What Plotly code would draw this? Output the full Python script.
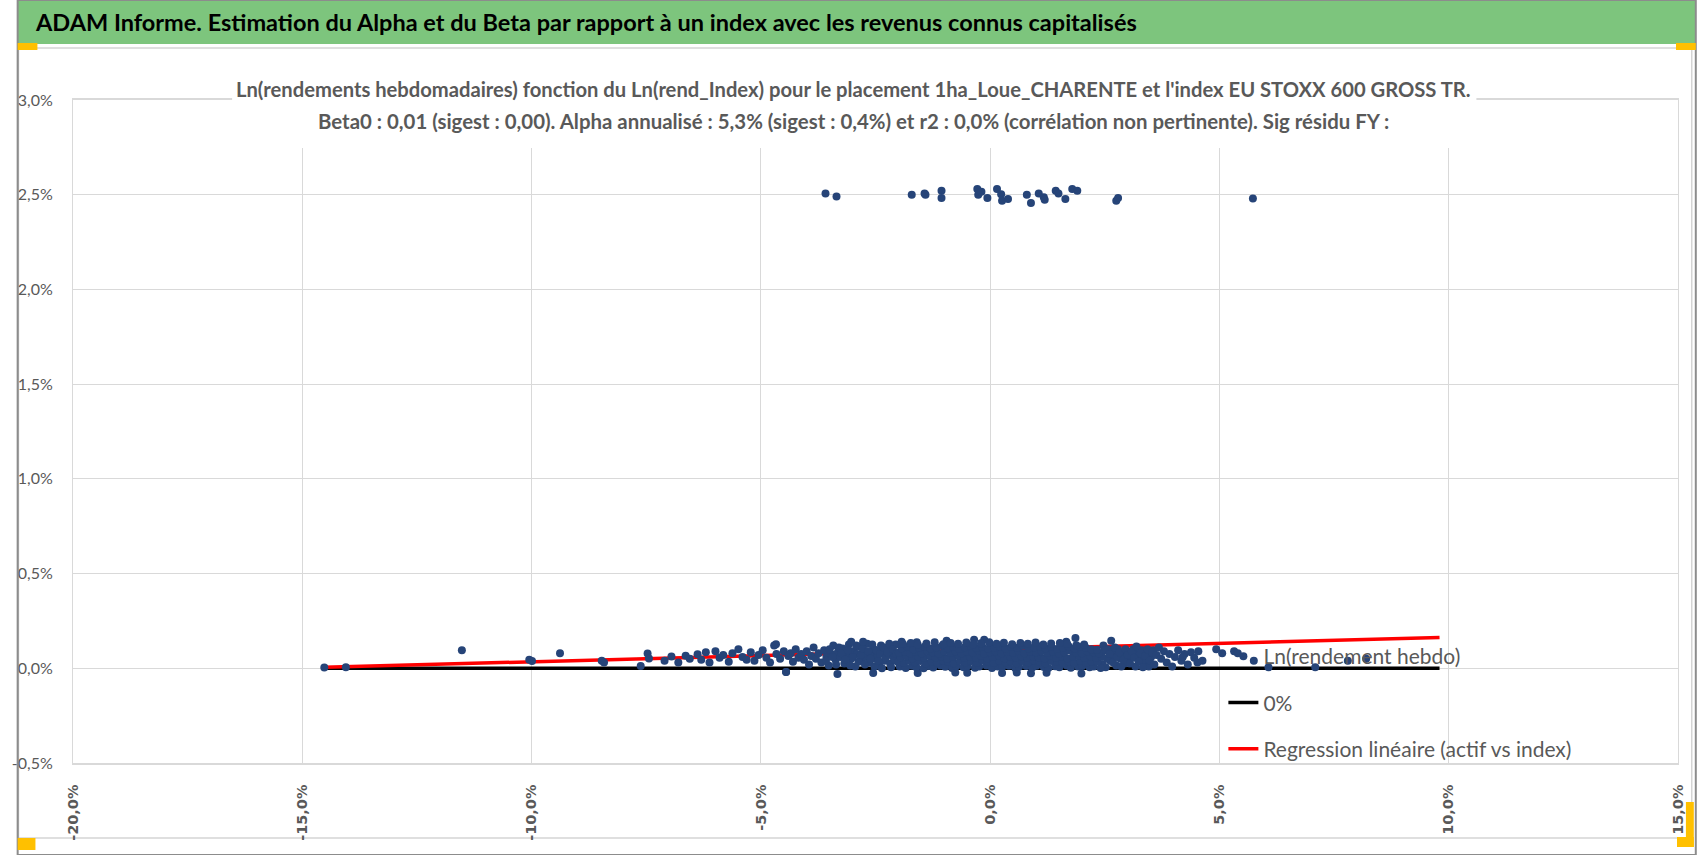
import plotly.graph_objects as go

# ---------------- data (values in %) ----------------
# weekly points around 2.5 % (upper group)
upper_x = [-3.59, -3.35, -1.71, -1.43, -1.41, -1.06, -1.06, -0.28, -0.26, -0.19, -0.06, 0.15, 0.24, 0.26,
           0.39, 0.80, 0.89, 1.06, 1.17, 1.19, 1.43, 1.49, 1.64, 1.79, 1.90, 2.75, 2.79, 5.73]
upper_y = [2.507, 2.491, 2.500, 2.507, 2.500, 2.521, 2.482, 2.530, 2.500, 2.516, 2.482, 2.530, 2.503, 2.468,
           2.477, 2.500, 2.456, 2.507, 2.486, 2.474, 2.521, 2.507, 2.477, 2.530, 2.521, 2.468, 2.482, 2.480]

# far left points
far_left = [(-14.52, 0.004), (-14.05, 0.006), (-11.52, 0.095), (-10.05, 0.045), (-9.99, 0.038), (-9.38, 0.080),
            (-8.47, 0.040), (-8.42, 0.030), (-7.62, 0.012), (-7.47, 0.078), (-7.44, 0.052), (-7.10, 0.040),
            (-6.95, 0.062), (-6.80, 0.030), (-6.64, 0.066), (-6.55, 0.050), (-6.38, 0.074), (-6.30, 0.045),
            (-6.20, 0.085), (-6.12, 0.030), (-5.99, 0.090), (-5.90, 0.055), (-5.82, 0.070), (-5.70, 0.035),
            (-5.62, 0.080), (-5.49, 0.100), (-5.40, 0.060), (-5.31, 0.045), (-5.22, 0.085), (-5.14, 0.040),
            (-5.05, 0.070), (-4.96, 0.095), (-4.88, 0.055), (-4.80, 0.030), (-4.71, 0.120), (-4.66, 0.075),
            (-4.58, 0.050), (-4.50, 0.090)]

left_mid = [(-4.45, -0.020), (-4.40, 0.065), (-4.35, 0.080), (-4.30, 0.035), (-4.24, 0.100), (-4.18, 0.055),
            (-4.12, 0.075), (-4.06, 0.045), (-4.00, 0.090), (-3.95, 0.020), (-3.90, 0.065), (-3.85, 0.110),
            (-3.80, 0.050), (-3.74, 0.080), (-3.68, 0.030), (-3.62, 0.095), (-3.57, 0.060), (-3.52, 0.015),
            (-3.47, 0.075), (-3.42, 0.120), (-3.37, 0.045), (-3.32, 0.085), (-3.27, 0.060), (-3.22, 0.105),
            (-3.18, 0.025), (-3.13, 0.070), (-3.08, 0.125), (-3.03, 0.050), (-2.98, 0.090), (-2.94, 0.010),
            (-2.90, 0.075), (-2.85, 0.115), (-2.81, 0.040), (-2.76, 0.095), (-2.72, 0.060), (-2.68, 0.130),
            (-2.63, 0.030), (-2.59, 0.080), (-2.55, 0.105), (-2.50, 0.050), (-2.46, 0.070), (-2.42, 0.015),
            (-2.38, 0.120), (-2.34, 0.090), (-2.30, 0.040), (-2.26, 0.065), (-2.22, 0.100), (-2.18, 0.025),
            (-2.14, 0.080), (-2.10, 0.055), (-2.06, 0.125), (-2.02, 0.035)]

left_dense = [(-3.58, 0.040), (-3.50, 0.100), (-3.44, 0.060), (-3.36, 0.020), (-3.30, 0.110), (-3.24, 0.080),
              (-3.16, 0.045), (-3.10, 0.095), (-3.05, 0.015), (-2.99, 0.060), (-2.92, 0.120), (-2.87, 0.035),
              (-2.82, 0.070), (-2.78, 0.105), (-2.73, 0.020), (-2.66, 0.090), (-2.61, 0.050), (-2.57, 0.125),
              (-2.52, 0.010), (-2.48, 0.095), (-2.44, 0.040), (-2.40, 0.075), (-2.36, 0.000), (-2.32, 0.110),
              (-2.28, 0.055), (-2.24, 0.085), (-2.20, 0.130), (-2.16, 0.005), (-2.12, 0.100), (-2.08, 0.045),
              (-2.04, 0.075)]

low_points = [(-4.45, -0.020), (-3.33, -0.030), (-2.55, -0.025), (-1.58, -0.025), (-0.76, -0.022),
              (-0.50, -0.024), (0.26, -0.025), (0.58, -0.022), (0.89, -0.026), (1.23, -0.024), (1.99, -0.028)]

high_points = [(-4.67, 0.127), (-3.03, 0.140), (-2.77, 0.140), (-1.93, 0.140), (-1.60, 0.138), (-0.95, 0.145),
               (-0.35, 0.150), (-0.13, 0.150), (1.66, 0.140), (1.86, 0.160), (2.64, 0.145)]

core_row1_x = [-1.97, -1.84, -1.70, -1.61, -1.45, -1.33, -1.24, -1.08, -0.98, -0.83, -0.74, -0.58, -0.49, -0.33,
               -0.24, -0.08, 0.04, 0.17, 0.26, 0.41, 0.55, 0.63, 0.79, 0.92, 1.01, 1.17, 1.27, 1.42, 1.51, 1.67,
               1.76, 1.92, 2.01, 2.17, 2.26, 2.41]
core_row1_y = [0.010, 0.002, 0.014, 0.006, 0.000, 0.012, 0.004, 0.015, 0.008, 0.001, 0.011, 0.005, 0.013, 0.003,
               0.009, 0.015, 0.002, 0.010, 0.006, 0.013, 0.000, 0.008, 0.012, 0.004, 0.014, 0.007, 0.001, 0.011,
               0.005, 0.015, 0.003, 0.009, 0.012, 0.006, 0.010, 0.002]
core_row2_x = [-2.00, -1.88, -1.77, -1.64, -1.52, -1.41, -1.28, -1.16, -1.03, -0.91, -0.79, -0.66, -0.54, -0.42,
               -0.29, -0.17, -0.05, 0.08, 0.20, 0.33, 0.45, 0.58, 0.70, 0.83, 0.95, 1.08, 1.20, 1.33, 1.46, 1.58,
               1.71, 1.83, 1.96, 2.09, 2.21, 2.34]
core_row2_y = [0.035, 0.028, 0.040, 0.032, 0.038, 0.026, 0.036, 0.030, 0.041, 0.033, 0.027, 0.039, 0.031, 0.037,
               0.029, 0.042, 0.034, 0.028, 0.040, 0.032, 0.036, 0.026, 0.038, 0.030, 0.041, 0.035, 0.027, 0.039,
               0.033, 0.029, 0.037, 0.031, 0.040, 0.028, 0.036, 0.034]
core_row3_x = [-1.95, -1.82, -1.69, -1.57, -1.44, -1.31, -1.19, -1.06, -0.94, -0.81, -0.69, -0.56, -0.44, -0.31,
               -0.19, -0.06, 0.06, 0.19, 0.31, 0.44, 0.56, 0.69, 0.81, 0.94, 1.06, 1.19, 1.31, 1.44, 1.56, 1.69,
               1.81, 1.94, 2.06, 2.19, 2.31, 2.44]
core_row3_y = [0.058, 0.064, 0.052, 0.061, 0.055, 0.066, 0.057, 0.063, 0.051, 0.060, 0.067, 0.054, 0.062, 0.056,
               0.065, 0.053, 0.059, 0.066, 0.052, 0.061, 0.057, 0.064, 0.055, 0.062, 0.058, 0.053, 0.065, 0.056,
               0.063, 0.051, 0.060, 0.066, 0.054, 0.062, 0.057, 0.059]
core_row4_x = [-1.99, -1.86, -1.74, -1.62, -1.49, -1.37, -1.25, -1.12, -1.00, -0.87, -0.75, -0.62, -0.50, -0.38,
               -0.25, -0.13, 0.00, 0.12, 0.25, 0.37, 0.50, 0.62, 0.75, 0.87, 1.00, 1.12, 1.25, 1.37, 1.50, 1.62,
               1.75, 1.87, 2.00, 2.12, 2.25, 2.37]
core_row4_y = [0.082, 0.089, 0.078, 0.086, 0.080, 0.091, 0.084, 0.077, 0.088, 0.081, 0.090, 0.079, 0.087, 0.083,
               0.092, 0.078, 0.085, 0.089, 0.080, 0.086, 0.082, 0.091, 0.079, 0.087, 0.084, 0.090, 0.081, 0.088,
               0.077, 0.085, 0.092, 0.083, 0.080, 0.088, 0.084, 0.079]
core_row5_x = [-1.93, -1.80, -1.67, -1.55, -1.42, -1.30, -1.17, -1.05, -0.92, -0.80, -0.67, -0.55, -0.42, -0.30,
               -0.17, -0.04, 0.09, 0.21, 0.34, 0.46, 0.59, 0.71, 0.84, 0.96, 1.09, 1.21, 1.34, 1.46, 1.59, 1.71,
               1.84, 1.96, 2.09, 2.21, 2.33]
core_row5_y = [0.105, 0.112, 0.101, 0.109, 0.115, 0.104, 0.110, 0.117, 0.106, 0.113, 0.102, 0.111, 0.118, 0.107,
               0.114, 0.103, 0.110, 0.116, 0.105, 0.112, 0.108, 0.119, 0.104, 0.111, 0.115, 0.106, 0.113, 0.102,
               0.109, 0.116, 0.105, 0.112, 0.107, 0.100, 0.098]
core_row6_x = [-1.90, -1.73, -1.58, -1.39, -1.21, -1.02, -0.86, -0.70, -0.52, -0.37, -0.20, -0.02, 0.14, 0.30,
               0.48, 0.66, 0.82, 0.99, 1.16, 1.33, 1.52, 1.68, 1.88, 2.05]
core_row6_y = [0.128, 0.134, 0.125, 0.131, 0.137, 0.127, 0.133, 0.129, 0.136, 0.126, 0.132, 0.138, 0.130, 0.135,
               0.127, 0.133, 0.129, 0.136, 0.126, 0.131, 0.134, 0.128, 0.122, 0.125]

right_dense = [(2.42, 0.070), (2.47, 0.120), (2.52, 0.005), (2.57, 0.100), (2.62, 0.040), (2.66, 0.085),
               (2.70, 0.060), (2.75, 0.015), (2.79, 0.100), (2.84, 0.050), (2.88, 0.075), (2.93, 0.025),
               (2.98, 0.090), (3.03, 0.045), (3.07, 0.065), (3.12, 0.100), (3.17, 0.010), (3.21, 0.075),
               (3.26, 0.055), (3.31, 0.095), (3.36, 0.030), (3.41, 0.070), (3.46, 0.010), (3.51, 0.060),
               (3.56, 0.095)]

right_mid = [(2.45, 0.020), (2.50, 0.095), (2.55, 0.050), (2.60, 0.075), (2.68, 0.030), (2.72, 0.110),
             (2.77, 0.060), (2.82, 0.085), (2.86, 0.010), (2.91, 0.045), (2.95, 0.100), (3.00, 0.070),
             (3.05, 0.025), (3.09, 0.090), (3.14, 0.055), (3.19, 0.115), (3.24, 0.035), (3.28, 0.080),
             (3.33, 0.005), (3.38, 0.065), (3.43, 0.100), (3.48, 0.040), (3.53, 0.085), (3.58, 0.020),
             (3.63, 0.070), (3.68, 0.110), (3.73, 0.050), (3.79, 0.090), (3.85, 0.030), (3.91, 0.075),
             (3.97, 0.010), (4.03, 0.060), (4.10, 0.095), (4.17, 0.040), (4.24, 0.075), (4.31, 0.020),
             (4.38, 0.085), (4.45, 0.055), (4.52, 0.030)]

far_right = [(4.20, 0.060), (4.54, 0.090), (4.63, 0.040), (4.93, 0.100), (5.06, 0.080), (5.32, 0.090),
             (5.40, 0.080), (5.75, 0.040), (6.07, 0.005), (7.09, 0.005), (7.80, 0.040), (8.20, 0.050)]

# 0 % line and regression line (endpoints)
zero_x = [-14.52, 9.80]
zero_y = [0.0, 0.0]
reg_x = [-14.52, 9.80]
reg_y = [0.005, 0.163]

x_tick_vals = [-20, -15, -10, -5, 0, 5, 10, 15]
x_tick_text = ["-20,0%", "-15,0%", "-10,0%", "-5,0%", "0,0%", "5,0%", "10,0%", "15,0%"]
y_tick_vals = [-0.5, 0.0, 0.5, 1.0, 1.5, 2.0, 2.5, 3.0]
y_tick_text = ["-0,5%", "0,0%", "0,5%", "1,0%", "1,5%", "2,0%", "2,5%", "3,0%"]

header_text = "ADAM Informe. Estimation du Alpha et du Beta par rapport à un index avec les revenus connus capitalisés"
title_line1 = "Ln(rendements hebdomadaires) fonction du Ln(rend_Index) pour le placement 1ha_Loue_CHARENTE et l'index EU STOXX 600 GROSS TR."
title_line2 = "Beta0 : 0,01 (sigest : 0,00). Alpha annualisé : 5,3% (sigest : 0,4%) et r2 : 0,0% (corrélation non pertinente). Sig résidu FY :"

# ---------------- assemble points ----------------
pts_x, pts_y = [], []
for seg in (far_left, left_mid, left_dense, low_points, high_points, right_dense, right_mid, far_right):
    for a, b in seg:
        pts_x.append(a)
        pts_y.append(b)
for xs, ys in ((core_row1_x, core_row1_y), (core_row2_x, core_row2_y), (core_row3_x, core_row3_y),
               (core_row4_x, core_row4_y), (core_row5_x, core_row5_y), (core_row6_x, core_row6_y),
               (upper_x, upper_y)):
    pts_x.extend(xs)
    pts_y.extend(ys)

# ---------------- layout geometry (pixels) ----------------
W, H = 1698, 855
L, R, T, B = 56, 1680, 100, 763


def fx(p):
    return (p - L) / (R - L)


def fy(p):
    return (B - p) / (B - T)


GRAY_TXT = "#595959"
GRID = "#D9D9D9"

fig = go.Figure()
fig.add_trace(go.Scatter(x=zero_x, y=zero_y, mode="lines", name="0%",
                         line=dict(color="black", width=3.5), legendrank=2, legendgroup="b"))
fig.add_trace(go.Scatter(x=reg_x, y=reg_y, mode="lines", name="Regression linéaire (actif vs index)",
                         line=dict(color="#FF0000", width=3.5), legendrank=3, legendgroup="c"))
fig.add_trace(go.Scatter(x=pts_x, y=pts_y, mode="markers", name="Ln(rendement hebdo)",
                         marker=dict(color="#264478", size=8, line=dict(width=0)),
                         legendrank=1, legendgroup="a"))

shapes = []


def rect(x0, y0, x1, y1, fill=None, line=None, lw=0, layer="above"):
    shapes.append(dict(type="rect", xref="paper", yref="paper",
                       x0=fx(x0), x1=fx(x1), y0=fy(y1), y1=fy(y0),
                       fillcolor=fill if fill else "rgba(0,0,0,0)",
                       line=dict(color=line if line else "rgba(0,0,0,0)", width=lw),
                       layer=layer))


# header band
rect(0, 0, W, 44, fill="#7DC57D", layer="below")
# chart area frame
rect(1, 48, 1694, 838, line="#BFBFBF", lw=1, layer="below")
# outer frame
rect(0, 0, W, H, line="#8C8C8C", lw=2, layer="above")
# white box behind the chart title
rect(217, 68, 1476, 148, fill="white", layer="above")
# orange handles
rect(0, 43, 20, 50, fill="#FFC000")
rect(1678, 43, 1698, 50, fill="#FFC000")
rect(0, 838, 18, 850, fill="#FFC000")
rect(1688, 802, 1696, 847, fill="#FFC000")
rect(1679, 837, 1696, 847, fill="#FFC000")

annotations = [
    dict(text=header_text, xref="paper", yref="paper", x=fx(16), y=fy(22), xanchor="left", yanchor="middle",
         showarrow=False, font=dict(family="Lato", size=23.5, color="black", weight="bold")),
    dict(text=title_line1, xref="paper", yref="paper", x=fx(846), y=fy(89), xanchor="center", yanchor="middle",
         showarrow=False, font=dict(family="Lato", size=20.2, color=GRAY_TXT, weight="bold")),
    dict(text=title_line2, xref="paper", yref="paper", x=fx(846), y=fy(121), xanchor="center", yanchor="middle",
         showarrow=False, font=dict(family="Lato", size=20.4, color=GRAY_TXT, weight="bold")),
]

fig.update_layout(
    width=W, height=H, autosize=False,
    margin=dict(l=L, r=W - R, t=T, b=H - B, pad=0),
    paper_bgcolor="white", plot_bgcolor="white",
    showlegend=True,
    legend=dict(x=fx(1220), y=fy(636), xanchor="left", yanchor="top", bgcolor="rgba(0,0,0,0)",
                font=dict(family="Lato", size=21, color=GRAY_TXT), tracegroupgap=16,
                traceorder="grouped"),
    shapes=shapes,
    annotations=annotations,
    xaxis=dict(range=[-20, 15], tickvals=x_tick_vals, ticktext=x_tick_text, tickangle=-90,
               tickfont=dict(family="DejaVu Sans", size=14.5, color=GRAY_TXT, weight="bold"),
               showgrid=True, gridcolor=GRID, gridwidth=1, zeroline=False,
               showline=True, linecolor=GRID, linewidth=1.5, mirror=True,
               ticks="", ticklabelstandoff=14),
    yaxis=dict(range=[-0.5, 3.0], tickvals=y_tick_vals, ticktext=y_tick_text,
               tickfont=dict(family="Lato", size=16, color=GRAY_TXT),
               showgrid=True, gridcolor=GRID, gridwidth=1, zeroline=False,
               showline=True, linecolor=GRID, linewidth=1, mirror=True,
               ticks="", ticklabelstandoff=16),
)

fig.write_html("out.html", config={"displayModeBar": False},
               post_script="document.body.style.margin='0px';document.body.style.overflow='hidden';")
